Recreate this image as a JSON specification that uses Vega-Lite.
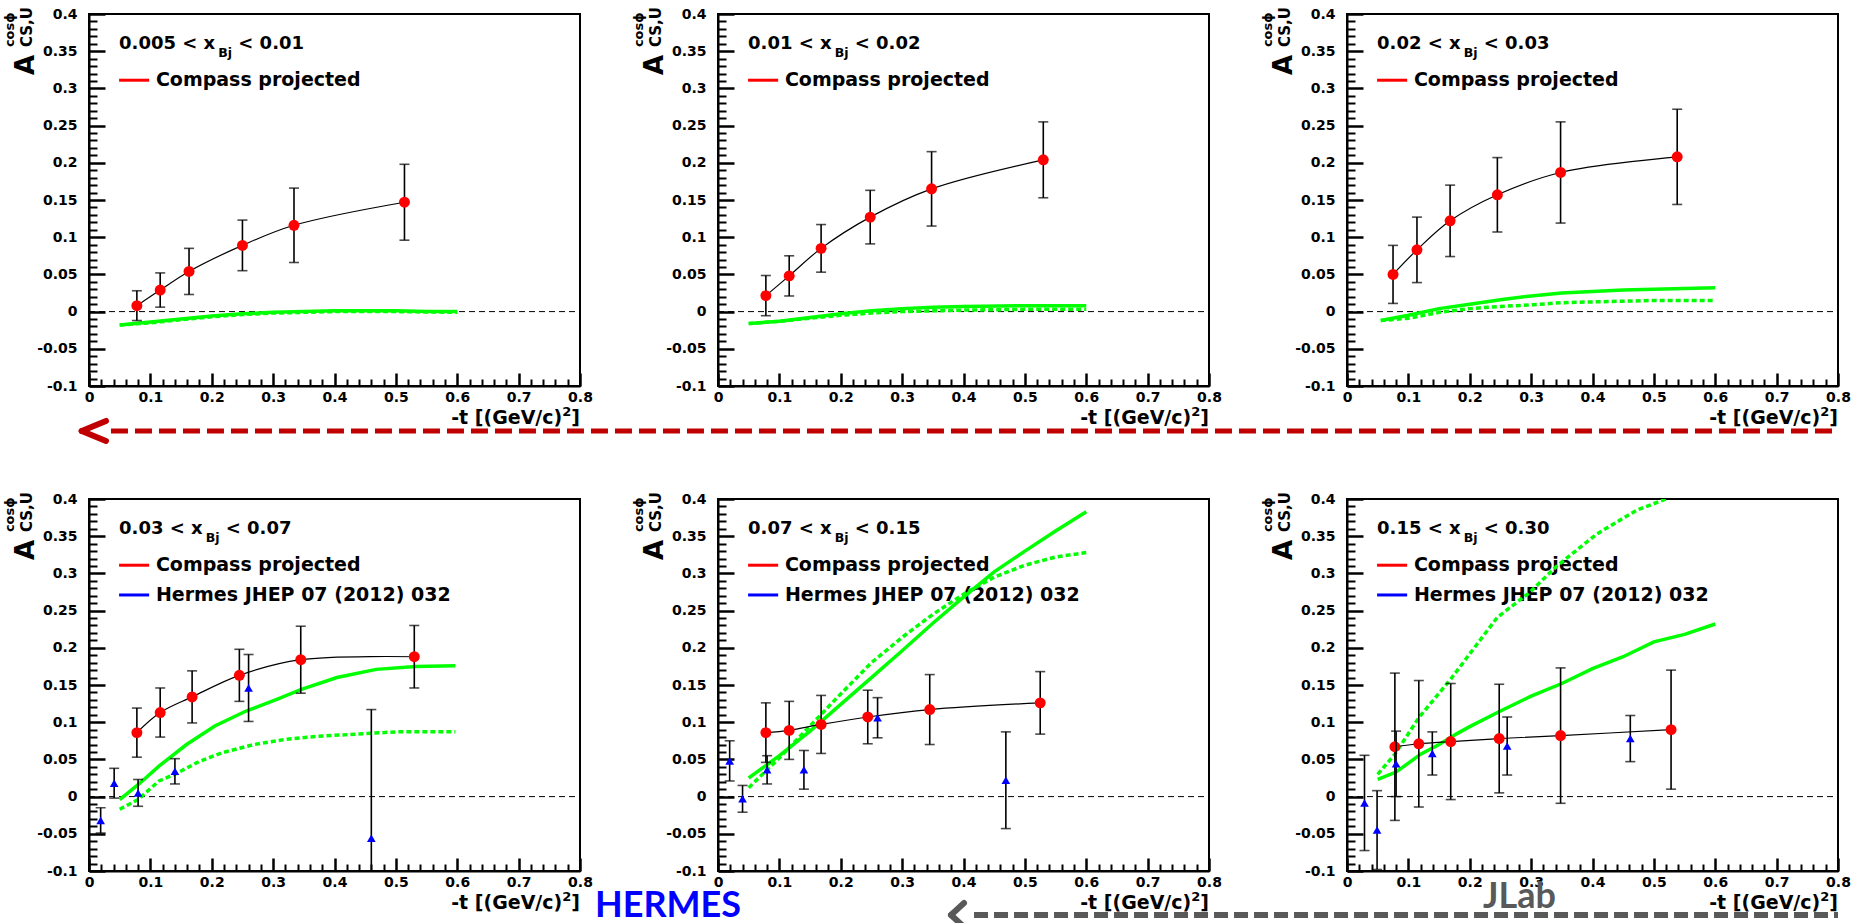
{
  "$schema": "https://vega.github.io/schema/vega-lite/v6.json",
  "background": "white",
  "autosize": {"type": "pad"},
  "padding": {"left": 3, "top": 6, "right": 5, "bottom": 0},
  "bounds": "flush",
  "columns": 3,
  "spacing": {"row": 113, "column": 138},
  "config": {
    "view": {"stroke": "black", "strokeWidth": 2},
    "axis": {
      "labelFont": "DejaVu Sans", "labelFontWeight": "bold", "labelFontSize": 14, "labelColor": "black",
      "domainColor": "black", "domainWidth": 2,
      "labelFlush": false, "labelOverlap": false, "labelBound": false, "grid": false, "title": null,
      "labelExpr": "replace(datum.label, '\u2212', '-')"
    }
  },
  "datasets": {
    "compass": [
      {"bin": "0.005-0.01", "t": 0.078, "A": 0.008, "err": 0.020},
      {"bin": "0.005-0.01", "t": 0.116, "A": 0.029, "err": 0.023},
      {"bin": "0.005-0.01", "t": 0.163, "A": 0.054, "err": 0.031},
      {"bin": "0.005-0.01", "t": 0.250, "A": 0.089, "err": 0.034},
      {"bin": "0.005-0.01", "t": 0.334, "A": 0.116, "err": 0.050},
      {"bin": "0.005-0.01", "t": 0.514, "A": 0.147, "err": 0.051},
      {"bin": "0.01-0.02", "t": 0.078, "A": 0.0215, "err": 0.027},
      {"bin": "0.01-0.02", "t": 0.116, "A": 0.048, "err": 0.027},
      {"bin": "0.01-0.02", "t": 0.168, "A": 0.085, "err": 0.032},
      {"bin": "0.01-0.02", "t": 0.248, "A": 0.127, "err": 0.036},
      {"bin": "0.01-0.02", "t": 0.348, "A": 0.165, "err": 0.050},
      {"bin": "0.01-0.02", "t": 0.530, "A": 0.204, "err": 0.051},
      {"bin": "0.02-0.03", "t": 0.075, "A": 0.050, "err": 0.039},
      {"bin": "0.02-0.03", "t": 0.114, "A": 0.083, "err": 0.044},
      {"bin": "0.02-0.03", "t": 0.168, "A": 0.122, "err": 0.048},
      {"bin": "0.02-0.03", "t": 0.245, "A": 0.157, "err": 0.050},
      {"bin": "0.02-0.03", "t": 0.348, "A": 0.187, "err": 0.068},
      {"bin": "0.02-0.03", "t": 0.538, "A": 0.208, "err": 0.064},
      {"bin": "0.03-0.07", "t": 0.078, "A": 0.086, "err": 0.033},
      {"bin": "0.03-0.07", "t": 0.116, "A": 0.113, "err": 0.033},
      {"bin": "0.03-0.07", "t": 0.168, "A": 0.134, "err": 0.035},
      {"bin": "0.03-0.07", "t": 0.245, "A": 0.163, "err": 0.035},
      {"bin": "0.03-0.07", "t": 0.345, "A": 0.184, "err": 0.045},
      {"bin": "0.03-0.07", "t": 0.530, "A": 0.188, "err": 0.042},
      {"bin": "0.07-0.15", "t": 0.078, "A": 0.086, "err": 0.040},
      {"bin": "0.07-0.15", "t": 0.116, "A": 0.089, "err": 0.039},
      {"bin": "0.07-0.15", "t": 0.168, "A": 0.097, "err": 0.039},
      {"bin": "0.07-0.15", "t": 0.244, "A": 0.107, "err": 0.036},
      {"bin": "0.07-0.15", "t": 0.345, "A": 0.117, "err": 0.047},
      {"bin": "0.07-0.15", "t": 0.525, "A": 0.126, "err": 0.042},
      {"bin": "0.15-0.30", "t": 0.078, "A": 0.067, "err": 0.099},
      {"bin": "0.15-0.30", "t": 0.117, "A": 0.071, "err": 0.085},
      {"bin": "0.15-0.30", "t": 0.169, "A": 0.074, "err": 0.078},
      {"bin": "0.15-0.30", "t": 0.248, "A": 0.078, "err": 0.073},
      {"bin": "0.15-0.30", "t": 0.348, "A": 0.082, "err": 0.091},
      {"bin": "0.15-0.30", "t": 0.528, "A": 0.090, "err": 0.080}
    ],
    "hermes": [
      {"bin": "0.03-0.07", "t": 0.019, "A": -0.032, "err": 0.017},
      {"bin": "0.03-0.07", "t": 0.041, "A": 0.018, "err": 0.020},
      {"bin": "0.03-0.07", "t": 0.080, "A": 0.005, "err": 0.018},
      {"bin": "0.03-0.07", "t": 0.140, "A": 0.034, "err": 0.017},
      {"bin": "0.03-0.07", "t": 0.260, "A": 0.146, "err": 0.045},
      {"bin": "0.03-0.07", "t": 0.460, "A": -0.056, "err": 0.173},
      {"bin": "0.07-0.15", "t": 0.019, "A": 0.048, "err": 0.027},
      {"bin": "0.07-0.15", "t": 0.040, "A": -0.003, "err": 0.018},
      {"bin": "0.07-0.15", "t": 0.080, "A": 0.036, "err": 0.019},
      {"bin": "0.07-0.15", "t": 0.140, "A": 0.036, "err": 0.026},
      {"bin": "0.07-0.15", "t": 0.260, "A": 0.106, "err": 0.027},
      {"bin": "0.07-0.15", "t": 0.469, "A": 0.022, "err": 0.065},
      {"bin": "0.15-0.30", "t": 0.0285, "A": -0.0085, "err": 0.064},
      {"bin": "0.15-0.30", "t": 0.049, "A": -0.045, "err": 0.053},
      {"bin": "0.15-0.30", "t": 0.080, "A": 0.044, "err": 0.044},
      {"bin": "0.15-0.30", "t": 0.139, "A": 0.058, "err": 0.029},
      {"bin": "0.15-0.30", "t": 0.261, "A": 0.068, "err": 0.039},
      {"bin": "0.15-0.30", "t": 0.4616, "A": 0.078, "err": 0.031}
    ],
    "model": [
      {"bin": "0.005-0.01", "curve": "solid", "t": 0.05, "A": -0.018},
      {"bin": "0.005-0.01", "curve": "solid", "t": 0.1, "A": -0.014},
      {"bin": "0.005-0.01", "curve": "solid", "t": 0.15, "A": -0.010},
      {"bin": "0.005-0.01", "curve": "solid", "t": 0.2, "A": -0.006},
      {"bin": "0.005-0.01", "curve": "solid", "t": 0.25, "A": -0.003},
      {"bin": "0.005-0.01", "curve": "solid", "t": 0.3, "A": -0.001},
      {"bin": "0.005-0.01", "curve": "solid", "t": 0.35, "A": 0.0},
      {"bin": "0.005-0.01", "curve": "solid", "t": 0.4, "A": 0.001},
      {"bin": "0.005-0.01", "curve": "solid", "t": 0.45, "A": 0.001},
      {"bin": "0.005-0.01", "curve": "solid", "t": 0.5, "A": 0.001},
      {"bin": "0.005-0.01", "curve": "solid", "t": 0.55, "A": 0.0},
      {"bin": "0.005-0.01", "curve": "solid", "t": 0.6, "A": 0.0},
      {"bin": "0.005-0.01", "curve": "dotted", "t": 0.05, "A": -0.018},
      {"bin": "0.005-0.01", "curve": "dotted", "t": 0.1, "A": -0.015},
      {"bin": "0.005-0.01", "curve": "dotted", "t": 0.15, "A": -0.011},
      {"bin": "0.005-0.01", "curve": "dotted", "t": 0.2, "A": -0.007},
      {"bin": "0.005-0.01", "curve": "dotted", "t": 0.25, "A": -0.004},
      {"bin": "0.005-0.01", "curve": "dotted", "t": 0.3, "A": -0.002},
      {"bin": "0.005-0.01", "curve": "dotted", "t": 0.35, "A": -0.001},
      {"bin": "0.005-0.01", "curve": "dotted", "t": 0.4, "A": 0.0},
      {"bin": "0.005-0.01", "curve": "dotted", "t": 0.5, "A": 0.0},
      {"bin": "0.005-0.01", "curve": "dotted", "t": 0.6, "A": -0.001},
      {"bin": "0.01-0.02", "curve": "solid", "t": 0.05, "A": -0.016},
      {"bin": "0.01-0.02", "curve": "solid", "t": 0.1, "A": -0.013},
      {"bin": "0.01-0.02", "curve": "solid", "t": 0.15, "A": -0.008},
      {"bin": "0.01-0.02", "curve": "solid", "t": 0.2, "A": -0.003},
      {"bin": "0.01-0.02", "curve": "solid", "t": 0.25, "A": 0.001},
      {"bin": "0.01-0.02", "curve": "solid", "t": 0.3, "A": 0.004},
      {"bin": "0.01-0.02", "curve": "solid", "t": 0.35, "A": 0.006},
      {"bin": "0.01-0.02", "curve": "solid", "t": 0.4, "A": 0.007},
      {"bin": "0.01-0.02", "curve": "solid", "t": 0.5, "A": 0.008},
      {"bin": "0.01-0.02", "curve": "solid", "t": 0.6, "A": 0.008},
      {"bin": "0.01-0.02", "curve": "dotted", "t": 0.05, "A": -0.016},
      {"bin": "0.01-0.02", "curve": "dotted", "t": 0.1, "A": -0.013},
      {"bin": "0.01-0.02", "curve": "dotted", "t": 0.15, "A": -0.009},
      {"bin": "0.01-0.02", "curve": "dotted", "t": 0.2, "A": -0.005},
      {"bin": "0.01-0.02", "curve": "dotted", "t": 0.25, "A": -0.002},
      {"bin": "0.01-0.02", "curve": "dotted", "t": 0.3, "A": 0.0},
      {"bin": "0.01-0.02", "curve": "dotted", "t": 0.35, "A": 0.001},
      {"bin": "0.01-0.02", "curve": "dotted", "t": 0.4, "A": 0.002},
      {"bin": "0.01-0.02", "curve": "dotted", "t": 0.5, "A": 0.003},
      {"bin": "0.01-0.02", "curve": "dotted", "t": 0.6, "A": 0.003},
      {"bin": "0.02-0.03", "curve": "solid", "t": 0.055, "A": -0.012},
      {"bin": "0.02-0.03", "curve": "solid", "t": 0.1, "A": -0.005},
      {"bin": "0.02-0.03", "curve": "solid", "t": 0.15, "A": 0.004},
      {"bin": "0.02-0.03", "curve": "solid", "t": 0.2, "A": 0.010},
      {"bin": "0.02-0.03", "curve": "solid", "t": 0.25, "A": 0.016},
      {"bin": "0.02-0.03", "curve": "solid", "t": 0.3, "A": 0.021},
      {"bin": "0.02-0.03", "curve": "solid", "t": 0.35, "A": 0.025},
      {"bin": "0.02-0.03", "curve": "solid", "t": 0.4, "A": 0.027},
      {"bin": "0.02-0.03", "curve": "solid", "t": 0.45, "A": 0.029},
      {"bin": "0.02-0.03", "curve": "solid", "t": 0.5, "A": 0.030},
      {"bin": "0.02-0.03", "curve": "solid", "t": 0.55, "A": 0.031},
      {"bin": "0.02-0.03", "curve": "solid", "t": 0.6, "A": 0.032},
      {"bin": "0.02-0.03", "curve": "dotted", "t": 0.055, "A": -0.012},
      {"bin": "0.02-0.03", "curve": "dotted", "t": 0.1, "A": -0.009},
      {"bin": "0.02-0.03", "curve": "dotted", "t": 0.15, "A": -0.001},
      {"bin": "0.02-0.03", "curve": "dotted", "t": 0.2, "A": 0.004},
      {"bin": "0.02-0.03", "curve": "dotted", "t": 0.25, "A": 0.007},
      {"bin": "0.02-0.03", "curve": "dotted", "t": 0.3, "A": 0.009},
      {"bin": "0.02-0.03", "curve": "dotted", "t": 0.35, "A": 0.012},
      {"bin": "0.02-0.03", "curve": "dotted", "t": 0.4, "A": 0.013},
      {"bin": "0.02-0.03", "curve": "dotted", "t": 0.5, "A": 0.015},
      {"bin": "0.02-0.03", "curve": "dotted", "t": 0.6, "A": 0.015},
      {"bin": "0.03-0.07", "curve": "solid", "t": 0.05, "A": -0.004},
      {"bin": "0.03-0.07", "curve": "solid", "t": 0.08, "A": 0.016},
      {"bin": "0.03-0.07", "curve": "solid", "t": 0.114, "A": 0.041},
      {"bin": "0.03-0.07", "curve": "solid", "t": 0.159, "A": 0.070},
      {"bin": "0.03-0.07", "curve": "solid", "t": 0.205, "A": 0.095},
      {"bin": "0.03-0.07", "curve": "solid", "t": 0.256, "A": 0.115},
      {"bin": "0.03-0.07", "curve": "solid", "t": 0.307, "A": 0.131},
      {"bin": "0.03-0.07", "curve": "solid", "t": 0.346, "A": 0.144},
      {"bin": "0.03-0.07", "curve": "solid", "t": 0.404, "A": 0.160},
      {"bin": "0.03-0.07", "curve": "solid", "t": 0.468, "A": 0.171},
      {"bin": "0.03-0.07", "curve": "solid", "t": 0.532, "A": 0.175},
      {"bin": "0.03-0.07", "curve": "solid", "t": 0.597, "A": 0.176},
      {"bin": "0.03-0.07", "curve": "dotted", "t": 0.05, "A": -0.017},
      {"bin": "0.03-0.07", "curve": "dotted", "t": 0.08, "A": -0.004},
      {"bin": "0.03-0.07", "curve": "dotted", "t": 0.114, "A": 0.021},
      {"bin": "0.03-0.07", "curve": "dotted", "t": 0.14, "A": 0.030},
      {"bin": "0.03-0.07", "curve": "dotted", "t": 0.179, "A": 0.047},
      {"bin": "0.03-0.07", "curve": "dotted", "t": 0.217, "A": 0.059},
      {"bin": "0.03-0.07", "curve": "dotted", "t": 0.269, "A": 0.070},
      {"bin": "0.03-0.07", "curve": "dotted", "t": 0.32, "A": 0.077},
      {"bin": "0.03-0.07", "curve": "dotted", "t": 0.372, "A": 0.081},
      {"bin": "0.03-0.07", "curve": "dotted", "t": 0.436, "A": 0.084},
      {"bin": "0.03-0.07", "curve": "dotted", "t": 0.5, "A": 0.087},
      {"bin": "0.03-0.07", "curve": "dotted", "t": 0.597, "A": 0.087},
      {"bin": "0.07-0.15", "curve": "solid", "t": 0.05, "A": 0.025},
      {"bin": "0.07-0.15", "curve": "solid", "t": 0.1, "A": 0.055},
      {"bin": "0.07-0.15", "curve": "solid", "t": 0.15, "A": 0.088},
      {"bin": "0.07-0.15", "curve": "solid", "t": 0.2, "A": 0.124},
      {"bin": "0.07-0.15", "curve": "solid", "t": 0.25, "A": 0.160},
      {"bin": "0.07-0.15", "curve": "solid", "t": 0.3, "A": 0.196},
      {"bin": "0.07-0.15", "curve": "solid", "t": 0.35, "A": 0.233},
      {"bin": "0.07-0.15", "curve": "solid", "t": 0.4, "A": 0.268},
      {"bin": "0.07-0.15", "curve": "solid", "t": 0.45, "A": 0.302},
      {"bin": "0.07-0.15", "curve": "solid", "t": 0.5, "A": 0.330},
      {"bin": "0.07-0.15", "curve": "solid", "t": 0.55, "A": 0.357},
      {"bin": "0.07-0.15", "curve": "solid", "t": 0.6, "A": 0.383},
      {"bin": "0.07-0.15", "curve": "dotted", "t": 0.05, "A": 0.012},
      {"bin": "0.07-0.15", "curve": "dotted", "t": 0.1, "A": 0.052},
      {"bin": "0.07-0.15", "curve": "dotted", "t": 0.15, "A": 0.095},
      {"bin": "0.07-0.15", "curve": "dotted", "t": 0.2, "A": 0.138},
      {"bin": "0.07-0.15", "curve": "dotted", "t": 0.25, "A": 0.180},
      {"bin": "0.07-0.15", "curve": "dotted", "t": 0.3, "A": 0.214},
      {"bin": "0.07-0.15", "curve": "dotted", "t": 0.35, "A": 0.245},
      {"bin": "0.07-0.15", "curve": "dotted", "t": 0.4, "A": 0.272},
      {"bin": "0.07-0.15", "curve": "dotted", "t": 0.45, "A": 0.295},
      {"bin": "0.07-0.15", "curve": "dotted", "t": 0.5, "A": 0.311},
      {"bin": "0.07-0.15", "curve": "dotted", "t": 0.55, "A": 0.322},
      {"bin": "0.07-0.15", "curve": "dotted", "t": 0.6, "A": 0.328},
      {"bin": "0.15-0.30", "curve": "solid", "t": 0.05, "A": 0.023},
      {"bin": "0.15-0.30", "curve": "solid", "t": 0.08, "A": 0.033},
      {"bin": "0.15-0.30", "curve": "solid", "t": 0.1, "A": 0.045},
      {"bin": "0.15-0.30", "curve": "solid", "t": 0.12, "A": 0.057},
      {"bin": "0.15-0.30", "curve": "solid", "t": 0.15, "A": 0.070},
      {"bin": "0.15-0.30", "curve": "solid", "t": 0.18, "A": 0.085},
      {"bin": "0.15-0.30", "curve": "solid", "t": 0.2, "A": 0.094},
      {"bin": "0.15-0.30", "curve": "solid", "t": 0.25, "A": 0.115},
      {"bin": "0.15-0.30", "curve": "solid", "t": 0.3, "A": 0.135},
      {"bin": "0.15-0.30", "curve": "solid", "t": 0.35, "A": 0.152},
      {"bin": "0.15-0.30", "curve": "solid", "t": 0.4, "A": 0.172},
      {"bin": "0.15-0.30", "curve": "solid", "t": 0.45, "A": 0.188},
      {"bin": "0.15-0.30", "curve": "solid", "t": 0.5, "A": 0.208},
      {"bin": "0.15-0.30", "curve": "solid", "t": 0.55, "A": 0.218},
      {"bin": "0.15-0.30", "curve": "solid", "t": 0.6, "A": 0.232},
      {"bin": "0.15-0.30", "curve": "dotted", "t": 0.05, "A": 0.030},
      {"bin": "0.15-0.30", "curve": "dotted", "t": 0.078, "A": 0.057},
      {"bin": "0.15-0.30", "curve": "dotted", "t": 0.117, "A": 0.106},
      {"bin": "0.15-0.30", "curve": "dotted", "t": 0.169, "A": 0.158},
      {"bin": "0.15-0.30", "curve": "dotted", "t": 0.245, "A": 0.241},
      {"bin": "0.15-0.30", "curve": "dotted", "t": 0.297, "A": 0.274},
      {"bin": "0.15-0.30", "curve": "dotted", "t": 0.342, "A": 0.310},
      {"bin": "0.15-0.30", "curve": "dotted", "t": 0.407, "A": 0.353},
      {"bin": "0.15-0.30", "curve": "dotted", "t": 0.472, "A": 0.385},
      {"bin": "0.15-0.30", "curve": "dotted", "t": 0.52, "A": 0.400}
    ]
  },
  "concat": [
    {
      "width": 491, "height": 372,
      "data": {"values": [{}]},
      "resolve": {"axis": {"x": "independent", "y": "independent"}},
      "layer": [
        {"mark": {"type": "rule", "color": "black", "strokeWidth": 1, "strokeDash": [6, 4]},
         "encoding": {
           "x": {"datum": 0, "type": "quantitative", "scale": {"domain": [0, 0.8], "nice": false, "zero": false},
                 "axis": {"orient": "bottom", "values": [0, 0.1, 0.2, 0.3, 0.4, 0.5, 0.6, 0.7, 0.8], "format": ".1~f", "tickSize": -13, "tickColor": "black", "tickWidth": 2.5, "labelPadding": 17}},
           "x2": {"datum": 0.8},
           "y": {"datum": 0, "type": "quantitative", "scale": {"domain": [-0.1, 0.4], "nice": false, "zero": false},
                 "axis": {"orient": "left", "values": [-0.1, -0.05, 0, 0.05, 0.1, 0.15, 0.2, 0.25, 0.3, 0.35, 0.4], "format": ".2~f", "tickSize": -16, "tickColor": "black", "tickWidth": 2.5, "labelPadding": 28}}}},
        {"mark": {"type": "rule", "color": "#ff0000", "strokeWidth": 3},
         "encoding": {
           "x": {"datum": 0.049, "type": "quantitative", "axis": {"orient": "top", "offset": -372, "values": [0.02, 0.04, 0.06, 0.08, 0.12, 0.14, 0.16, 0.18, 0.22, 0.24, 0.26, 0.28, 0.32, 0.34, 0.36, 0.38, 0.42, 0.44, 0.46, 0.48, 0.52, 0.54, 0.56, 0.58, 0.62, 0.64, 0.66, 0.68, 0.72, 0.74, 0.76, 0.78], "tickSize": 7, "tickColor": "black", "tickWidth": 2, "labels": false, "domain": false}},
           "x2": {"datum": 0.098},
           "y": {"datum": 0.311, "type": "quantitative", "axis": {"orient": "right", "offset": -491, "values": [-0.09, -0.08, -0.07, -0.06, -0.04, -0.03, -0.02, -0.01, 0.01, 0.02, 0.03, 0.04, 0.06, 0.07, 0.08, 0.09, 0.11, 0.12, 0.13, 0.14, 0.16, 0.17, 0.18, 0.19, 0.21, 0.22, 0.23, 0.24, 0.26, 0.27, 0.28, 0.29, 0.31, 0.32, 0.33, 0.34, 0.36, 0.37, 0.38, 0.39], "tickSize": 8, "tickColor": "black", "tickWidth": 2, "labels": false, "domain": false}}}},
        {"mark": {"type": "text", "text": "Compass projected", "align": "left", "baseline": "middle", "font": "DejaVu Sans", "fontWeight": "bold", "fontSize": 19},
         "encoding": {"x": {"datum": 0.109, "type": "quantitative", "axis": null}, "y": {"datum": 0.311, "type": "quantitative", "axis": null}}},
        {"mark": {"type": "text", "text": "0.005 < x", "align": "left", "baseline": "alphabetic", "font": "DejaVu Sans", "fontWeight": "bold", "fontSize": 18},
         "encoding": {"x": {"datum": 0.049, "type": "quantitative", "axis": null}, "y": {"datum": 0.3525, "type": "quantitative", "axis": null}}},
        {"mark": {"type": "text", "text": "Bj", "align": "left", "baseline": "alphabetic", "font": "DejaVu Sans", "fontWeight": "bold", "fontSize": 12.5},
         "encoding": {"x": {"datum": 0.2105, "type": "quantitative", "axis": null}, "y": {"datum": 0.3417, "type": "quantitative", "axis": null}}},
        {"mark": {"type": "text", "text": "< 0.01", "align": "left", "baseline": "alphabetic", "font": "DejaVu Sans", "fontWeight": "bold", "fontSize": 18},
         "encoding": {"x": {"datum": 0.2432, "type": "quantitative", "axis": null}, "y": {"datum": 0.3525, "type": "quantitative", "axis": null}}},
        {"mark": {"type": "text", "text": "A", "angle": 270, "align": "center", "baseline": "alphabetic", "font": "DejaVu Sans", "fontWeight": "bold", "fontSize": 26},
         "encoding": {"x": {"datum": -0.0895, "type": "quantitative", "axis": null}, "y": {"datum": 0.3315, "type": "quantitative", "axis": null}}},
        {"mark": {"type": "text", "text": "CS,U", "angle": 270, "align": "left", "baseline": "alphabetic", "font": "DejaVu Sans", "fontWeight": "bold", "fontSize": 15},
         "encoding": {"x": {"datum": -0.093, "type": "quantitative", "axis": null}, "y": {"datum": 0.3555, "type": "quantitative", "axis": null}}},
        {"mark": {"type": "text", "text": "cos\u03d5", "angle": 270, "align": "left", "baseline": "alphabetic", "font": "DejaVu Sans", "fontWeight": "bold", "fontSize": 13},
         "encoding": {"x": {"datum": -0.1215, "type": "quantitative", "axis": null}, "y": {"datum": 0.3555, "type": "quantitative", "axis": null}}},
        {"mark": {"type": "text", "text": "-t [(GeV/c)", "align": "right", "baseline": "alphabetic", "font": "DejaVu Sans", "fontWeight": "bold", "fontSize": 19},
         "encoding": {"x": {"datum": 0.7711, "type": "quantitative", "axis": null}, "y": {"datum": -0.1511, "type": "quantitative", "axis": null}}},
        {"mark": {"type": "text", "text": "2", "align": "right", "baseline": "alphabetic", "font": "DejaVu Sans", "fontWeight": "bold", "fontSize": 13},
         "encoding": {"x": {"datum": 0.7858, "type": "quantitative", "axis": null}, "y": {"datum": -0.1403, "type": "quantitative", "axis": null}}},
        {"mark": {"type": "text", "text": "]", "align": "right", "baseline": "alphabetic", "font": "DejaVu Sans", "fontWeight": "bold", "fontSize": 19},
         "encoding": {"x": {"datum": 0.8, "type": "quantitative", "axis": null}, "y": {"datum": -0.1511, "type": "quantitative", "axis": null}}},
        {"data": {"name": "model"}, "transform": [{"filter": "datum.bin === '0.005-0.01' && datum.curve === 'solid'"}],
         "mark": {"type": "line", "color": "#00ff00", "strokeWidth": 3.5, "clip": true},
         "encoding": {"x": {"field": "t", "type": "quantitative", "axis": null}, "y": {"field": "A", "type": "quantitative", "axis": null}}},
        {"data": {"name": "model"}, "transform": [{"filter": "datum.bin === '0.005-0.01' && datum.curve === 'dotted'"}],
         "mark": {"type": "line", "color": "#00ff00", "strokeWidth": 3.5, "strokeDash": [5, 3], "clip": true},
         "encoding": {"x": {"field": "t", "type": "quantitative", "axis": null}, "y": {"field": "A", "type": "quantitative", "axis": null}}},
        {"data": {"name": "compass"}, "transform": [{"filter": "datum.bin === '0.005-0.01'"}],
         "mark": {"type": "line", "color": "black", "strokeWidth": 1.2, "interpolate": "catmull-rom"},
         "encoding": {"x": {"field": "t", "type": "quantitative", "axis": null}, "y": {"field": "A", "type": "quantitative", "axis": null}}},
        {"data": {"name": "compass"}, "transform": [{"filter": "datum.bin === '0.005-0.01'"}],
         "mark": {"type": "errorbar", "clip": true, "ticks": {"size": 10, "color": "black", "thickness": 1.6}, "rule": {"color": "black", "strokeWidth": 1.6}},
         "encoding": {"x": {"field": "t", "type": "quantitative", "axis": null}, "y": {"field": "A", "type": "quantitative", "axis": null}, "yError": {"field": "err"}}},
        {"data": {"name": "compass"}, "transform": [{"filter": "datum.bin === '0.005-0.01'"}],
         "mark": {"type": "point", "filled": true, "shape": "circle", "size": 120, "color": "#ff0000", "opacity": 1},
         "encoding": {"x": {"field": "t", "type": "quantitative", "axis": null}, "y": {"field": "A", "type": "quantitative", "axis": null}}},
        {"mark": {"type": "rule", "color": "#c00000", "strokeWidth": 5, "strokeDash": [17, 7]},
         "encoding": {"x": {"datum": 0.0358, "type": "quantitative", "axis": null}, "x2": {"datum": 2.8416}, "y": {"datum": -0.1605, "type": "quantitative", "axis": null}}},
        {"mark": {"type": "rule", "color": "#c00000", "strokeWidth": 6, "strokeCap": "round"},
         "encoding": {"x": {"datum": -0.0119, "type": "quantitative", "axis": null}, "x2": {"datum": 0.0277}, "y": {"datum": -0.1605, "type": "quantitative", "axis": null}, "y2": {"datum": -0.1470}}},
        {"mark": {"type": "rule", "color": "#c00000", "strokeWidth": 6, "strokeCap": "round"},
         "encoding": {"x": {"datum": -0.0119, "type": "quantitative", "axis": null}, "x2": {"datum": 0.0277}, "y": {"datum": -0.1605, "type": "quantitative", "axis": null}, "y2": {"datum": -0.1739}}}
      ]
    },
    {
      "width": 491, "height": 372,
      "data": {"values": [{}]},
      "resolve": {"axis": {"x": "independent", "y": "independent"}},
      "layer": [
        {"mark": {"type": "rule", "color": "black", "strokeWidth": 1, "strokeDash": [6, 4]},
         "encoding": {
           "x": {"datum": 0, "type": "quantitative", "scale": {"domain": [0, 0.8], "nice": false, "zero": false},
                 "axis": {"orient": "bottom", "values": [0, 0.1, 0.2, 0.3, 0.4, 0.5, 0.6, 0.7, 0.8], "format": ".1~f", "tickSize": -13, "tickColor": "black", "tickWidth": 2.5, "labelPadding": 17}},
           "x2": {"datum": 0.8},
           "y": {"datum": 0, "type": "quantitative", "scale": {"domain": [-0.1, 0.4], "nice": false, "zero": false},
                 "axis": {"orient": "left", "values": [-0.1, -0.05, 0, 0.05, 0.1, 0.15, 0.2, 0.25, 0.3, 0.35, 0.4], "format": ".2~f", "tickSize": -16, "tickColor": "black", "tickWidth": 2.5, "labelPadding": 28}}}},
        {"mark": {"type": "rule", "color": "#ff0000", "strokeWidth": 3},
         "encoding": {
           "x": {"datum": 0.049, "type": "quantitative", "axis": {"orient": "top", "offset": -372, "values": [0.02, 0.04, 0.06, 0.08, 0.12, 0.14, 0.16, 0.18, 0.22, 0.24, 0.26, 0.28, 0.32, 0.34, 0.36, 0.38, 0.42, 0.44, 0.46, 0.48, 0.52, 0.54, 0.56, 0.58, 0.62, 0.64, 0.66, 0.68, 0.72, 0.74, 0.76, 0.78], "tickSize": 7, "tickColor": "black", "tickWidth": 2, "labels": false, "domain": false}},
           "x2": {"datum": 0.098},
           "y": {"datum": 0.311, "type": "quantitative", "axis": {"orient": "right", "offset": -491, "values": [-0.09, -0.08, -0.07, -0.06, -0.04, -0.03, -0.02, -0.01, 0.01, 0.02, 0.03, 0.04, 0.06, 0.07, 0.08, 0.09, 0.11, 0.12, 0.13, 0.14, 0.16, 0.17, 0.18, 0.19, 0.21, 0.22, 0.23, 0.24, 0.26, 0.27, 0.28, 0.29, 0.31, 0.32, 0.33, 0.34, 0.36, 0.37, 0.38, 0.39], "tickSize": 8, "tickColor": "black", "tickWidth": 2, "labels": false, "domain": false}}}},
        {"mark": {"type": "text", "text": "Compass projected", "align": "left", "baseline": "middle", "font": "DejaVu Sans", "fontWeight": "bold", "fontSize": 19},
         "encoding": {"x": {"datum": 0.109, "type": "quantitative", "axis": null}, "y": {"datum": 0.311, "type": "quantitative", "axis": null}}},
        {"mark": {"type": "text", "text": "0.01 < x", "align": "left", "baseline": "alphabetic", "font": "DejaVu Sans", "fontWeight": "bold", "fontSize": 18},
         "encoding": {"x": {"datum": 0.049, "type": "quantitative", "axis": null}, "y": {"datum": 0.3525, "type": "quantitative", "axis": null}}},
        {"mark": {"type": "text", "text": "Bj", "align": "left", "baseline": "alphabetic", "font": "DejaVu Sans", "fontWeight": "bold", "fontSize": 12.5},
         "encoding": {"x": {"datum": 0.1901, "type": "quantitative", "axis": null}, "y": {"datum": 0.3417, "type": "quantitative", "axis": null}}},
        {"mark": {"type": "text", "text": "< 0.02", "align": "left", "baseline": "alphabetic", "font": "DejaVu Sans", "fontWeight": "bold", "fontSize": 18},
         "encoding": {"x": {"datum": 0.2228, "type": "quantitative", "axis": null}, "y": {"datum": 0.3525, "type": "quantitative", "axis": null}}},
        {"mark": {"type": "text", "text": "A", "angle": 270, "align": "center", "baseline": "alphabetic", "font": "DejaVu Sans", "fontWeight": "bold", "fontSize": 26},
         "encoding": {"x": {"datum": -0.0895, "type": "quantitative", "axis": null}, "y": {"datum": 0.3315, "type": "quantitative", "axis": null}}},
        {"mark": {"type": "text", "text": "CS,U", "angle": 270, "align": "left", "baseline": "alphabetic", "font": "DejaVu Sans", "fontWeight": "bold", "fontSize": 15},
         "encoding": {"x": {"datum": -0.093, "type": "quantitative", "axis": null}, "y": {"datum": 0.3555, "type": "quantitative", "axis": null}}},
        {"mark": {"type": "text", "text": "cos\u03d5", "angle": 270, "align": "left", "baseline": "alphabetic", "font": "DejaVu Sans", "fontWeight": "bold", "fontSize": 13},
         "encoding": {"x": {"datum": -0.1215, "type": "quantitative", "axis": null}, "y": {"datum": 0.3555, "type": "quantitative", "axis": null}}},
        {"mark": {"type": "text", "text": "-t [(GeV/c)", "align": "right", "baseline": "alphabetic", "font": "DejaVu Sans", "fontWeight": "bold", "fontSize": 19},
         "encoding": {"x": {"datum": 0.7711, "type": "quantitative", "axis": null}, "y": {"datum": -0.1511, "type": "quantitative", "axis": null}}},
        {"mark": {"type": "text", "text": "2", "align": "right", "baseline": "alphabetic", "font": "DejaVu Sans", "fontWeight": "bold", "fontSize": 13},
         "encoding": {"x": {"datum": 0.7858, "type": "quantitative", "axis": null}, "y": {"datum": -0.1403, "type": "quantitative", "axis": null}}},
        {"mark": {"type": "text", "text": "]", "align": "right", "baseline": "alphabetic", "font": "DejaVu Sans", "fontWeight": "bold", "fontSize": 19},
         "encoding": {"x": {"datum": 0.8, "type": "quantitative", "axis": null}, "y": {"datum": -0.1511, "type": "quantitative", "axis": null}}},
        {"data": {"name": "model"}, "transform": [{"filter": "datum.bin === '0.01-0.02' && datum.curve === 'solid'"}],
         "mark": {"type": "line", "color": "#00ff00", "strokeWidth": 3.5, "clip": true},
         "encoding": {"x": {"field": "t", "type": "quantitative", "axis": null}, "y": {"field": "A", "type": "quantitative", "axis": null}}},
        {"data": {"name": "model"}, "transform": [{"filter": "datum.bin === '0.01-0.02' && datum.curve === 'dotted'"}],
         "mark": {"type": "line", "color": "#00ff00", "strokeWidth": 3.5, "strokeDash": [5, 3], "clip": true},
         "encoding": {"x": {"field": "t", "type": "quantitative", "axis": null}, "y": {"field": "A", "type": "quantitative", "axis": null}}},
        {"data": {"name": "compass"}, "transform": [{"filter": "datum.bin === '0.01-0.02'"}],
         "mark": {"type": "line", "color": "black", "strokeWidth": 1.2, "interpolate": "catmull-rom"},
         "encoding": {"x": {"field": "t", "type": "quantitative", "axis": null}, "y": {"field": "A", "type": "quantitative", "axis": null}}},
        {"data": {"name": "compass"}, "transform": [{"filter": "datum.bin === '0.01-0.02'"}],
         "mark": {"type": "errorbar", "clip": true, "ticks": {"size": 10, "color": "black", "thickness": 1.6}, "rule": {"color": "black", "strokeWidth": 1.6}},
         "encoding": {"x": {"field": "t", "type": "quantitative", "axis": null}, "y": {"field": "A", "type": "quantitative", "axis": null}, "yError": {"field": "err"}}},
        {"data": {"name": "compass"}, "transform": [{"filter": "datum.bin === '0.01-0.02'"}],
         "mark": {"type": "point", "filled": true, "shape": "circle", "size": 120, "color": "#ff0000", "opacity": 1},
         "encoding": {"x": {"field": "t", "type": "quantitative", "axis": null}, "y": {"field": "A", "type": "quantitative", "axis": null}}}
      ]
    },
    {
      "width": 491, "height": 372,
      "data": {"values": [{}]},
      "resolve": {"axis": {"x": "independent", "y": "independent"}},
      "layer": [
        {"mark": {"type": "rule", "color": "black", "strokeWidth": 1, "strokeDash": [6, 4]},
         "encoding": {
           "x": {"datum": 0, "type": "quantitative", "scale": {"domain": [0, 0.8], "nice": false, "zero": false},
                 "axis": {"orient": "bottom", "values": [0, 0.1, 0.2, 0.3, 0.4, 0.5, 0.6, 0.7, 0.8], "format": ".1~f", "tickSize": -13, "tickColor": "black", "tickWidth": 2.5, "labelPadding": 17}},
           "x2": {"datum": 0.8},
           "y": {"datum": 0, "type": "quantitative", "scale": {"domain": [-0.1, 0.4], "nice": false, "zero": false},
                 "axis": {"orient": "left", "values": [-0.1, -0.05, 0, 0.05, 0.1, 0.15, 0.2, 0.25, 0.3, 0.35, 0.4], "format": ".2~f", "tickSize": -16, "tickColor": "black", "tickWidth": 2.5, "labelPadding": 28}}}},
        {"mark": {"type": "rule", "color": "#ff0000", "strokeWidth": 3},
         "encoding": {
           "x": {"datum": 0.049, "type": "quantitative", "axis": {"orient": "top", "offset": -372, "values": [0.02, 0.04, 0.06, 0.08, 0.12, 0.14, 0.16, 0.18, 0.22, 0.24, 0.26, 0.28, 0.32, 0.34, 0.36, 0.38, 0.42, 0.44, 0.46, 0.48, 0.52, 0.54, 0.56, 0.58, 0.62, 0.64, 0.66, 0.68, 0.72, 0.74, 0.76, 0.78], "tickSize": 7, "tickColor": "black", "tickWidth": 2, "labels": false, "domain": false}},
           "x2": {"datum": 0.098},
           "y": {"datum": 0.311, "type": "quantitative", "axis": {"orient": "right", "offset": -491, "values": [-0.09, -0.08, -0.07, -0.06, -0.04, -0.03, -0.02, -0.01, 0.01, 0.02, 0.03, 0.04, 0.06, 0.07, 0.08, 0.09, 0.11, 0.12, 0.13, 0.14, 0.16, 0.17, 0.18, 0.19, 0.21, 0.22, 0.23, 0.24, 0.26, 0.27, 0.28, 0.29, 0.31, 0.32, 0.33, 0.34, 0.36, 0.37, 0.38, 0.39], "tickSize": 8, "tickColor": "black", "tickWidth": 2, "labels": false, "domain": false}}}},
        {"mark": {"type": "text", "text": "Compass projected", "align": "left", "baseline": "middle", "font": "DejaVu Sans", "fontWeight": "bold", "fontSize": 19},
         "encoding": {"x": {"datum": 0.109, "type": "quantitative", "axis": null}, "y": {"datum": 0.311, "type": "quantitative", "axis": null}}},
        {"mark": {"type": "text", "text": "0.02 < x", "align": "left", "baseline": "alphabetic", "font": "DejaVu Sans", "fontWeight": "bold", "fontSize": 18},
         "encoding": {"x": {"datum": 0.049, "type": "quantitative", "axis": null}, "y": {"datum": 0.3525, "type": "quantitative", "axis": null}}},
        {"mark": {"type": "text", "text": "Bj", "align": "left", "baseline": "alphabetic", "font": "DejaVu Sans", "fontWeight": "bold", "fontSize": 12.5},
         "encoding": {"x": {"datum": 0.1901, "type": "quantitative", "axis": null}, "y": {"datum": 0.3417, "type": "quantitative", "axis": null}}},
        {"mark": {"type": "text", "text": "< 0.03", "align": "left", "baseline": "alphabetic", "font": "DejaVu Sans", "fontWeight": "bold", "fontSize": 18},
         "encoding": {"x": {"datum": 0.2228, "type": "quantitative", "axis": null}, "y": {"datum": 0.3525, "type": "quantitative", "axis": null}}},
        {"mark": {"type": "text", "text": "A", "angle": 270, "align": "center", "baseline": "alphabetic", "font": "DejaVu Sans", "fontWeight": "bold", "fontSize": 26},
         "encoding": {"x": {"datum": -0.0895, "type": "quantitative", "axis": null}, "y": {"datum": 0.3315, "type": "quantitative", "axis": null}}},
        {"mark": {"type": "text", "text": "CS,U", "angle": 270, "align": "left", "baseline": "alphabetic", "font": "DejaVu Sans", "fontWeight": "bold", "fontSize": 15},
         "encoding": {"x": {"datum": -0.093, "type": "quantitative", "axis": null}, "y": {"datum": 0.3555, "type": "quantitative", "axis": null}}},
        {"mark": {"type": "text", "text": "cos\u03d5", "angle": 270, "align": "left", "baseline": "alphabetic", "font": "DejaVu Sans", "fontWeight": "bold", "fontSize": 13},
         "encoding": {"x": {"datum": -0.1215, "type": "quantitative", "axis": null}, "y": {"datum": 0.3555, "type": "quantitative", "axis": null}}},
        {"mark": {"type": "text", "text": "-t [(GeV/c)", "align": "right", "baseline": "alphabetic", "font": "DejaVu Sans", "fontWeight": "bold", "fontSize": 19},
         "encoding": {"x": {"datum": 0.7711, "type": "quantitative", "axis": null}, "y": {"datum": -0.1511, "type": "quantitative", "axis": null}}},
        {"mark": {"type": "text", "text": "2", "align": "right", "baseline": "alphabetic", "font": "DejaVu Sans", "fontWeight": "bold", "fontSize": 13},
         "encoding": {"x": {"datum": 0.7858, "type": "quantitative", "axis": null}, "y": {"datum": -0.1403, "type": "quantitative", "axis": null}}},
        {"mark": {"type": "text", "text": "]", "align": "right", "baseline": "alphabetic", "font": "DejaVu Sans", "fontWeight": "bold", "fontSize": 19},
         "encoding": {"x": {"datum": 0.8, "type": "quantitative", "axis": null}, "y": {"datum": -0.1511, "type": "quantitative", "axis": null}}},
        {"data": {"name": "model"}, "transform": [{"filter": "datum.bin === '0.02-0.03' && datum.curve === 'solid'"}],
         "mark": {"type": "line", "color": "#00ff00", "strokeWidth": 3.5, "clip": true},
         "encoding": {"x": {"field": "t", "type": "quantitative", "axis": null}, "y": {"field": "A", "type": "quantitative", "axis": null}}},
        {"data": {"name": "model"}, "transform": [{"filter": "datum.bin === '0.02-0.03' && datum.curve === 'dotted'"}],
         "mark": {"type": "line", "color": "#00ff00", "strokeWidth": 3.5, "strokeDash": [5, 3], "clip": true},
         "encoding": {"x": {"field": "t", "type": "quantitative", "axis": null}, "y": {"field": "A", "type": "quantitative", "axis": null}}},
        {"data": {"name": "compass"}, "transform": [{"filter": "datum.bin === '0.02-0.03'"}],
         "mark": {"type": "line", "color": "black", "strokeWidth": 1.2, "interpolate": "catmull-rom"},
         "encoding": {"x": {"field": "t", "type": "quantitative", "axis": null}, "y": {"field": "A", "type": "quantitative", "axis": null}}},
        {"data": {"name": "compass"}, "transform": [{"filter": "datum.bin === '0.02-0.03'"}],
         "mark": {"type": "errorbar", "clip": true, "ticks": {"size": 10, "color": "black", "thickness": 1.6}, "rule": {"color": "black", "strokeWidth": 1.6}},
         "encoding": {"x": {"field": "t", "type": "quantitative", "axis": null}, "y": {"field": "A", "type": "quantitative", "axis": null}, "yError": {"field": "err"}}},
        {"data": {"name": "compass"}, "transform": [{"filter": "datum.bin === '0.02-0.03'"}],
         "mark": {"type": "point", "filled": true, "shape": "circle", "size": 120, "color": "#ff0000", "opacity": 1},
         "encoding": {"x": {"field": "t", "type": "quantitative", "axis": null}, "y": {"field": "A", "type": "quantitative", "axis": null}}}
      ]
    },
    {
      "width": 491, "height": 372,
      "data": {"values": [{}]},
      "resolve": {"axis": {"x": "independent", "y": "independent"}},
      "layer": [
        {"mark": {"type": "rule", "color": "black", "strokeWidth": 1, "strokeDash": [6, 4]},
         "encoding": {
           "x": {"datum": 0, "type": "quantitative", "scale": {"domain": [0, 0.8], "nice": false, "zero": false},
                 "axis": {"orient": "bottom", "values": [0, 0.1, 0.2, 0.3, 0.4, 0.5, 0.6, 0.7, 0.8], "format": ".1~f", "tickSize": -13, "tickColor": "black", "tickWidth": 2.5, "labelPadding": 17}},
           "x2": {"datum": 0.8},
           "y": {"datum": 0, "type": "quantitative", "scale": {"domain": [-0.1, 0.4], "nice": false, "zero": false},
                 "axis": {"orient": "left", "values": [-0.1, -0.05, 0, 0.05, 0.1, 0.15, 0.2, 0.25, 0.3, 0.35, 0.4], "format": ".2~f", "tickSize": -16, "tickColor": "black", "tickWidth": 2.5, "labelPadding": 28}}}},
        {"mark": {"type": "rule", "color": "#ff0000", "strokeWidth": 3},
         "encoding": {
           "x": {"datum": 0.049, "type": "quantitative", "axis": {"orient": "top", "offset": -372, "values": [0.02, 0.04, 0.06, 0.08, 0.12, 0.14, 0.16, 0.18, 0.22, 0.24, 0.26, 0.28, 0.32, 0.34, 0.36, 0.38, 0.42, 0.44, 0.46, 0.48, 0.52, 0.54, 0.56, 0.58, 0.62, 0.64, 0.66, 0.68, 0.72, 0.74, 0.76, 0.78], "tickSize": 7, "tickColor": "black", "tickWidth": 2, "labels": false, "domain": false}},
           "x2": {"datum": 0.098},
           "y": {"datum": 0.311, "type": "quantitative", "axis": {"orient": "right", "offset": -491, "values": [-0.09, -0.08, -0.07, -0.06, -0.04, -0.03, -0.02, -0.01, 0.01, 0.02, 0.03, 0.04, 0.06, 0.07, 0.08, 0.09, 0.11, 0.12, 0.13, 0.14, 0.16, 0.17, 0.18, 0.19, 0.21, 0.22, 0.23, 0.24, 0.26, 0.27, 0.28, 0.29, 0.31, 0.32, 0.33, 0.34, 0.36, 0.37, 0.38, 0.39], "tickSize": 8, "tickColor": "black", "tickWidth": 2, "labels": false, "domain": false}}}},
        {"mark": {"type": "rule", "color": "#0000ff", "strokeWidth": 3},
         "encoding": {"x": {"datum": 0.049, "type": "quantitative", "axis": null}, "x2": {"datum": 0.098}, "y": {"datum": 0.271, "type": "quantitative", "axis": null}}},
        {"mark": {"type": "text", "text": "Compass projected", "align": "left", "baseline": "middle", "font": "DejaVu Sans", "fontWeight": "bold", "fontSize": 19},
         "encoding": {"x": {"datum": 0.109, "type": "quantitative", "axis": null}, "y": {"datum": 0.311, "type": "quantitative", "axis": null}}},
        {"mark": {"type": "text", "text": "Hermes JHEP 07 (2012) 032", "align": "left", "baseline": "middle", "font": "DejaVu Sans", "fontWeight": "bold", "fontSize": 19},
         "encoding": {"x": {"datum": 0.109, "type": "quantitative", "axis": null}, "y": {"datum": 0.271, "type": "quantitative", "axis": null}}},
        {"mark": {"type": "text", "text": "0.03 < x", "align": "left", "baseline": "alphabetic", "font": "DejaVu Sans", "fontWeight": "bold", "fontSize": 18},
         "encoding": {"x": {"datum": 0.049, "type": "quantitative", "axis": null}, "y": {"datum": 0.3525, "type": "quantitative", "axis": null}}},
        {"mark": {"type": "text", "text": "Bj", "align": "left", "baseline": "alphabetic", "font": "DejaVu Sans", "fontWeight": "bold", "fontSize": 12.5},
         "encoding": {"x": {"datum": 0.1901, "type": "quantitative", "axis": null}, "y": {"datum": 0.3417, "type": "quantitative", "axis": null}}},
        {"mark": {"type": "text", "text": "< 0.07", "align": "left", "baseline": "alphabetic", "font": "DejaVu Sans", "fontWeight": "bold", "fontSize": 18},
         "encoding": {"x": {"datum": 0.2228, "type": "quantitative", "axis": null}, "y": {"datum": 0.3525, "type": "quantitative", "axis": null}}},
        {"mark": {"type": "text", "text": "A", "angle": 270, "align": "center", "baseline": "alphabetic", "font": "DejaVu Sans", "fontWeight": "bold", "fontSize": 26},
         "encoding": {"x": {"datum": -0.0895, "type": "quantitative", "axis": null}, "y": {"datum": 0.3315, "type": "quantitative", "axis": null}}},
        {"mark": {"type": "text", "text": "CS,U", "angle": 270, "align": "left", "baseline": "alphabetic", "font": "DejaVu Sans", "fontWeight": "bold", "fontSize": 15},
         "encoding": {"x": {"datum": -0.093, "type": "quantitative", "axis": null}, "y": {"datum": 0.3555, "type": "quantitative", "axis": null}}},
        {"mark": {"type": "text", "text": "cos\u03d5", "angle": 270, "align": "left", "baseline": "alphabetic", "font": "DejaVu Sans", "fontWeight": "bold", "fontSize": 13},
         "encoding": {"x": {"datum": -0.1215, "type": "quantitative", "axis": null}, "y": {"datum": 0.3555, "type": "quantitative", "axis": null}}},
        {"mark": {"type": "text", "text": "-t [(GeV/c)", "align": "right", "baseline": "alphabetic", "font": "DejaVu Sans", "fontWeight": "bold", "fontSize": 19},
         "encoding": {"x": {"datum": 0.7711, "type": "quantitative", "axis": null}, "y": {"datum": -0.1511, "type": "quantitative", "axis": null}}},
        {"mark": {"type": "text", "text": "2", "align": "right", "baseline": "alphabetic", "font": "DejaVu Sans", "fontWeight": "bold", "fontSize": 13},
         "encoding": {"x": {"datum": 0.7858, "type": "quantitative", "axis": null}, "y": {"datum": -0.1403, "type": "quantitative", "axis": null}}},
        {"mark": {"type": "text", "text": "]", "align": "right", "baseline": "alphabetic", "font": "DejaVu Sans", "fontWeight": "bold", "fontSize": 19},
         "encoding": {"x": {"datum": 0.8, "type": "quantitative", "axis": null}, "y": {"datum": -0.1511, "type": "quantitative", "axis": null}}},
        {"data": {"name": "model"}, "transform": [{"filter": "datum.bin === '0.03-0.07' && datum.curve === 'solid'"}],
         "mark": {"type": "line", "color": "#00ff00", "strokeWidth": 3.5, "clip": true},
         "encoding": {"x": {"field": "t", "type": "quantitative", "axis": null}, "y": {"field": "A", "type": "quantitative", "axis": null}}},
        {"data": {"name": "model"}, "transform": [{"filter": "datum.bin === '0.03-0.07' && datum.curve === 'dotted'"}],
         "mark": {"type": "line", "color": "#00ff00", "strokeWidth": 3.5, "strokeDash": [5, 3], "clip": true},
         "encoding": {"x": {"field": "t", "type": "quantitative", "axis": null}, "y": {"field": "A", "type": "quantitative", "axis": null}}},
        {"data": {"name": "compass"}, "transform": [{"filter": "datum.bin === '0.03-0.07'"}],
         "mark": {"type": "line", "color": "black", "strokeWidth": 1.2, "interpolate": "catmull-rom"},
         "encoding": {"x": {"field": "t", "type": "quantitative", "axis": null}, "y": {"field": "A", "type": "quantitative", "axis": null}}},
        {"data": {"name": "compass"}, "transform": [{"filter": "datum.bin === '0.03-0.07'"}],
         "mark": {"type": "errorbar", "clip": true, "ticks": {"size": 10, "color": "black", "thickness": 1.6}, "rule": {"color": "black", "strokeWidth": 1.6}},
         "encoding": {"x": {"field": "t", "type": "quantitative", "axis": null}, "y": {"field": "A", "type": "quantitative", "axis": null}, "yError": {"field": "err"}}},
        {"data": {"name": "compass"}, "transform": [{"filter": "datum.bin === '0.03-0.07'"}],
         "mark": {"type": "point", "filled": true, "shape": "circle", "size": 120, "color": "#ff0000", "opacity": 1},
         "encoding": {"x": {"field": "t", "type": "quantitative", "axis": null}, "y": {"field": "A", "type": "quantitative", "axis": null}}},
        {"data": {"name": "hermes"}, "transform": [{"filter": "datum.bin === '0.03-0.07'"}],
         "mark": {"type": "errorbar", "clip": true, "ticks": {"size": 10, "color": "black", "thickness": 1.6}, "rule": {"color": "black", "strokeWidth": 1.6}},
         "encoding": {"x": {"field": "t", "type": "quantitative", "axis": null}, "y": {"field": "A", "type": "quantitative", "axis": null}, "yError": {"field": "err"}}},
        {"data": {"name": "hermes"}, "transform": [{"filter": "datum.bin === '0.03-0.07'"}],
         "mark": {"type": "point", "filled": true, "shape": "triangle-up", "size": 75, "color": "#0000ff", "opacity": 1},
         "encoding": {"x": {"field": "t", "type": "quantitative", "axis": null}, "y": {"field": "A", "type": "quantitative", "axis": null}}},
        {"mark": {"type": "rule", "color": "#595959", "strokeWidth": 6, "strokeDash": [14, 6]},
         "encoding": {"x": {"datum": 1.442, "type": "quantitative", "axis": null}, "x2": {"datum": 2.8497}, "y": {"datum": -0.1591, "type": "quantitative", "axis": null}}},
        {"mark": {"type": "rule", "color": "#595959", "strokeWidth": 6, "strokeCap": "round"},
         "encoding": {"x": {"datum": 1.4045, "type": "quantitative", "axis": null}, "x2": {"datum": 1.4257}, "y": {"datum": -0.1591, "type": "quantitative", "axis": null}, "y2": {"datum": -0.143}}},
        {"mark": {"type": "rule", "color": "#595959", "strokeWidth": 6, "strokeCap": "round"},
         "encoding": {"x": {"datum": 1.4045, "type": "quantitative", "axis": null}, "x2": {"datum": 1.4257}, "y": {"datum": -0.1591, "type": "quantitative", "axis": null}, "y2": {"datum": -0.1753}}},
        {"mark": {"type": "text", "text": "HERMES", "align": "left", "baseline": "alphabetic", "font": "Lato", "fontWeight": "bold", "fontSize": 36, "color": "#0000ff"},
         "encoding": {"x": {"datum": 0.8244, "type": "quantitative", "axis": null}, "y": {"datum": -0.1618, "type": "quantitative", "axis": null}}}
      ]
    },
    {
      "width": 491, "height": 372,
      "data": {"values": [{}]},
      "resolve": {"axis": {"x": "independent", "y": "independent"}},
      "layer": [
        {"mark": {"type": "rule", "color": "black", "strokeWidth": 1, "strokeDash": [6, 4]},
         "encoding": {
           "x": {"datum": 0, "type": "quantitative", "scale": {"domain": [0, 0.8], "nice": false, "zero": false},
                 "axis": {"orient": "bottom", "values": [0, 0.1, 0.2, 0.3, 0.4, 0.5, 0.6, 0.7, 0.8], "format": ".1~f", "tickSize": -13, "tickColor": "black", "tickWidth": 2.5, "labelPadding": 17}},
           "x2": {"datum": 0.8},
           "y": {"datum": 0, "type": "quantitative", "scale": {"domain": [-0.1, 0.4], "nice": false, "zero": false},
                 "axis": {"orient": "left", "values": [-0.1, -0.05, 0, 0.05, 0.1, 0.15, 0.2, 0.25, 0.3, 0.35, 0.4], "format": ".2~f", "tickSize": -16, "tickColor": "black", "tickWidth": 2.5, "labelPadding": 28}}}},
        {"mark": {"type": "rule", "color": "#ff0000", "strokeWidth": 3},
         "encoding": {
           "x": {"datum": 0.049, "type": "quantitative", "axis": {"orient": "top", "offset": -372, "values": [0.02, 0.04, 0.06, 0.08, 0.12, 0.14, 0.16, 0.18, 0.22, 0.24, 0.26, 0.28, 0.32, 0.34, 0.36, 0.38, 0.42, 0.44, 0.46, 0.48, 0.52, 0.54, 0.56, 0.58, 0.62, 0.64, 0.66, 0.68, 0.72, 0.74, 0.76, 0.78], "tickSize": 7, "tickColor": "black", "tickWidth": 2, "labels": false, "domain": false}},
           "x2": {"datum": 0.098},
           "y": {"datum": 0.311, "type": "quantitative", "axis": {"orient": "right", "offset": -491, "values": [-0.09, -0.08, -0.07, -0.06, -0.04, -0.03, -0.02, -0.01, 0.01, 0.02, 0.03, 0.04, 0.06, 0.07, 0.08, 0.09, 0.11, 0.12, 0.13, 0.14, 0.16, 0.17, 0.18, 0.19, 0.21, 0.22, 0.23, 0.24, 0.26, 0.27, 0.28, 0.29, 0.31, 0.32, 0.33, 0.34, 0.36, 0.37, 0.38, 0.39], "tickSize": 8, "tickColor": "black", "tickWidth": 2, "labels": false, "domain": false}}}},
        {"mark": {"type": "rule", "color": "#0000ff", "strokeWidth": 3},
         "encoding": {"x": {"datum": 0.049, "type": "quantitative", "axis": null}, "x2": {"datum": 0.098}, "y": {"datum": 0.271, "type": "quantitative", "axis": null}}},
        {"mark": {"type": "text", "text": "Compass projected", "align": "left", "baseline": "middle", "font": "DejaVu Sans", "fontWeight": "bold", "fontSize": 19},
         "encoding": {"x": {"datum": 0.109, "type": "quantitative", "axis": null}, "y": {"datum": 0.311, "type": "quantitative", "axis": null}}},
        {"mark": {"type": "text", "text": "Hermes JHEP 07 (2012) 032", "align": "left", "baseline": "middle", "font": "DejaVu Sans", "fontWeight": "bold", "fontSize": 19},
         "encoding": {"x": {"datum": 0.109, "type": "quantitative", "axis": null}, "y": {"datum": 0.271, "type": "quantitative", "axis": null}}},
        {"mark": {"type": "text", "text": "0.07 < x", "align": "left", "baseline": "alphabetic", "font": "DejaVu Sans", "fontWeight": "bold", "fontSize": 18},
         "encoding": {"x": {"datum": 0.049, "type": "quantitative", "axis": null}, "y": {"datum": 0.3525, "type": "quantitative", "axis": null}}},
        {"mark": {"type": "text", "text": "Bj", "align": "left", "baseline": "alphabetic", "font": "DejaVu Sans", "fontWeight": "bold", "fontSize": 12.5},
         "encoding": {"x": {"datum": 0.1901, "type": "quantitative", "axis": null}, "y": {"datum": 0.3417, "type": "quantitative", "axis": null}}},
        {"mark": {"type": "text", "text": "< 0.15", "align": "left", "baseline": "alphabetic", "font": "DejaVu Sans", "fontWeight": "bold", "fontSize": 18},
         "encoding": {"x": {"datum": 0.2228, "type": "quantitative", "axis": null}, "y": {"datum": 0.3525, "type": "quantitative", "axis": null}}},
        {"mark": {"type": "text", "text": "A", "angle": 270, "align": "center", "baseline": "alphabetic", "font": "DejaVu Sans", "fontWeight": "bold", "fontSize": 26},
         "encoding": {"x": {"datum": -0.0895, "type": "quantitative", "axis": null}, "y": {"datum": 0.3315, "type": "quantitative", "axis": null}}},
        {"mark": {"type": "text", "text": "CS,U", "angle": 270, "align": "left", "baseline": "alphabetic", "font": "DejaVu Sans", "fontWeight": "bold", "fontSize": 15},
         "encoding": {"x": {"datum": -0.093, "type": "quantitative", "axis": null}, "y": {"datum": 0.3555, "type": "quantitative", "axis": null}}},
        {"mark": {"type": "text", "text": "cos\u03d5", "angle": 270, "align": "left", "baseline": "alphabetic", "font": "DejaVu Sans", "fontWeight": "bold", "fontSize": 13},
         "encoding": {"x": {"datum": -0.1215, "type": "quantitative", "axis": null}, "y": {"datum": 0.3555, "type": "quantitative", "axis": null}}},
        {"mark": {"type": "text", "text": "-t [(GeV/c)", "align": "right", "baseline": "alphabetic", "font": "DejaVu Sans", "fontWeight": "bold", "fontSize": 19},
         "encoding": {"x": {"datum": 0.7711, "type": "quantitative", "axis": null}, "y": {"datum": -0.1511, "type": "quantitative", "axis": null}}},
        {"mark": {"type": "text", "text": "2", "align": "right", "baseline": "alphabetic", "font": "DejaVu Sans", "fontWeight": "bold", "fontSize": 13},
         "encoding": {"x": {"datum": 0.7858, "type": "quantitative", "axis": null}, "y": {"datum": -0.1403, "type": "quantitative", "axis": null}}},
        {"mark": {"type": "text", "text": "]", "align": "right", "baseline": "alphabetic", "font": "DejaVu Sans", "fontWeight": "bold", "fontSize": 19},
         "encoding": {"x": {"datum": 0.8, "type": "quantitative", "axis": null}, "y": {"datum": -0.1511, "type": "quantitative", "axis": null}}},
        {"data": {"name": "model"}, "transform": [{"filter": "datum.bin === '0.07-0.15' && datum.curve === 'solid'"}],
         "mark": {"type": "line", "color": "#00ff00", "strokeWidth": 3.5, "clip": true},
         "encoding": {"x": {"field": "t", "type": "quantitative", "axis": null}, "y": {"field": "A", "type": "quantitative", "axis": null}}},
        {"data": {"name": "model"}, "transform": [{"filter": "datum.bin === '0.07-0.15' && datum.curve === 'dotted'"}],
         "mark": {"type": "line", "color": "#00ff00", "strokeWidth": 3.5, "strokeDash": [5, 3], "clip": true},
         "encoding": {"x": {"field": "t", "type": "quantitative", "axis": null}, "y": {"field": "A", "type": "quantitative", "axis": null}}},
        {"data": {"name": "compass"}, "transform": [{"filter": "datum.bin === '0.07-0.15'"}],
         "mark": {"type": "line", "color": "black", "strokeWidth": 1.2, "interpolate": "catmull-rom"},
         "encoding": {"x": {"field": "t", "type": "quantitative", "axis": null}, "y": {"field": "A", "type": "quantitative", "axis": null}}},
        {"data": {"name": "compass"}, "transform": [{"filter": "datum.bin === '0.07-0.15'"}],
         "mark": {"type": "errorbar", "clip": true, "ticks": {"size": 10, "color": "black", "thickness": 1.6}, "rule": {"color": "black", "strokeWidth": 1.6}},
         "encoding": {"x": {"field": "t", "type": "quantitative", "axis": null}, "y": {"field": "A", "type": "quantitative", "axis": null}, "yError": {"field": "err"}}},
        {"data": {"name": "compass"}, "transform": [{"filter": "datum.bin === '0.07-0.15'"}],
         "mark": {"type": "point", "filled": true, "shape": "circle", "size": 120, "color": "#ff0000", "opacity": 1},
         "encoding": {"x": {"field": "t", "type": "quantitative", "axis": null}, "y": {"field": "A", "type": "quantitative", "axis": null}}},
        {"data": {"name": "hermes"}, "transform": [{"filter": "datum.bin === '0.07-0.15'"}],
         "mark": {"type": "errorbar", "clip": true, "ticks": {"size": 10, "color": "black", "thickness": 1.6}, "rule": {"color": "black", "strokeWidth": 1.6}},
         "encoding": {"x": {"field": "t", "type": "quantitative", "axis": null}, "y": {"field": "A", "type": "quantitative", "axis": null}, "yError": {"field": "err"}}},
        {"data": {"name": "hermes"}, "transform": [{"filter": "datum.bin === '0.07-0.15'"}],
         "mark": {"type": "point", "filled": true, "shape": "triangle-up", "size": 75, "color": "#0000ff", "opacity": 1},
         "encoding": {"x": {"field": "t", "type": "quantitative", "axis": null}, "y": {"field": "A", "type": "quantitative", "axis": null}}}
      ]
    },
    {
      "width": 491, "height": 372,
      "data": {"values": [{}]},
      "resolve": {"axis": {"x": "independent", "y": "independent"}},
      "layer": [
        {"mark": {"type": "rule", "color": "black", "strokeWidth": 1, "strokeDash": [6, 4]},
         "encoding": {
           "x": {"datum": 0, "type": "quantitative", "scale": {"domain": [0, 0.8], "nice": false, "zero": false},
                 "axis": {"orient": "bottom", "values": [0, 0.1, 0.2, 0.3, 0.4, 0.5, 0.6, 0.7, 0.8], "format": ".1~f", "tickSize": -13, "tickColor": "black", "tickWidth": 2.5, "labelPadding": 17}},
           "x2": {"datum": 0.8},
           "y": {"datum": 0, "type": "quantitative", "scale": {"domain": [-0.1, 0.4], "nice": false, "zero": false},
                 "axis": {"orient": "left", "values": [-0.1, -0.05, 0, 0.05, 0.1, 0.15, 0.2, 0.25, 0.3, 0.35, 0.4], "format": ".2~f", "tickSize": -16, "tickColor": "black", "tickWidth": 2.5, "labelPadding": 28}}}},
        {"mark": {"type": "rule", "color": "#ff0000", "strokeWidth": 3},
         "encoding": {
           "x": {"datum": 0.049, "type": "quantitative", "axis": {"orient": "top", "offset": -372, "values": [0.02, 0.04, 0.06, 0.08, 0.12, 0.14, 0.16, 0.18, 0.22, 0.24, 0.26, 0.28, 0.32, 0.34, 0.36, 0.38, 0.42, 0.44, 0.46, 0.48, 0.52, 0.54, 0.56, 0.58, 0.62, 0.64, 0.66, 0.68, 0.72, 0.74, 0.76, 0.78], "tickSize": 7, "tickColor": "black", "tickWidth": 2, "labels": false, "domain": false}},
           "x2": {"datum": 0.098},
           "y": {"datum": 0.311, "type": "quantitative", "axis": {"orient": "right", "offset": -491, "values": [-0.09, -0.08, -0.07, -0.06, -0.04, -0.03, -0.02, -0.01, 0.01, 0.02, 0.03, 0.04, 0.06, 0.07, 0.08, 0.09, 0.11, 0.12, 0.13, 0.14, 0.16, 0.17, 0.18, 0.19, 0.21, 0.22, 0.23, 0.24, 0.26, 0.27, 0.28, 0.29, 0.31, 0.32, 0.33, 0.34, 0.36, 0.37, 0.38, 0.39], "tickSize": 8, "tickColor": "black", "tickWidth": 2, "labels": false, "domain": false}}}},
        {"mark": {"type": "rule", "color": "#0000ff", "strokeWidth": 3},
         "encoding": {"x": {"datum": 0.049, "type": "quantitative", "axis": null}, "x2": {"datum": 0.098}, "y": {"datum": 0.271, "type": "quantitative", "axis": null}}},
        {"mark": {"type": "text", "text": "Compass projected", "align": "left", "baseline": "middle", "font": "DejaVu Sans", "fontWeight": "bold", "fontSize": 19},
         "encoding": {"x": {"datum": 0.109, "type": "quantitative", "axis": null}, "y": {"datum": 0.311, "type": "quantitative", "axis": null}}},
        {"mark": {"type": "text", "text": "Hermes JHEP 07 (2012) 032", "align": "left", "baseline": "middle", "font": "DejaVu Sans", "fontWeight": "bold", "fontSize": 19},
         "encoding": {"x": {"datum": 0.109, "type": "quantitative", "axis": null}, "y": {"datum": 0.271, "type": "quantitative", "axis": null}}},
        {"mark": {"type": "text", "text": "0.15 < x", "align": "left", "baseline": "alphabetic", "font": "DejaVu Sans", "fontWeight": "bold", "fontSize": 18},
         "encoding": {"x": {"datum": 0.049, "type": "quantitative", "axis": null}, "y": {"datum": 0.3525, "type": "quantitative", "axis": null}}},
        {"mark": {"type": "text", "text": "Bj", "align": "left", "baseline": "alphabetic", "font": "DejaVu Sans", "fontWeight": "bold", "fontSize": 12.5},
         "encoding": {"x": {"datum": 0.1901, "type": "quantitative", "axis": null}, "y": {"datum": 0.3417, "type": "quantitative", "axis": null}}},
        {"mark": {"type": "text", "text": "< 0.30", "align": "left", "baseline": "alphabetic", "font": "DejaVu Sans", "fontWeight": "bold", "fontSize": 18},
         "encoding": {"x": {"datum": 0.2228, "type": "quantitative", "axis": null}, "y": {"datum": 0.3525, "type": "quantitative", "axis": null}}},
        {"mark": {"type": "text", "text": "A", "angle": 270, "align": "center", "baseline": "alphabetic", "font": "DejaVu Sans", "fontWeight": "bold", "fontSize": 26},
         "encoding": {"x": {"datum": -0.0895, "type": "quantitative", "axis": null}, "y": {"datum": 0.3315, "type": "quantitative", "axis": null}}},
        {"mark": {"type": "text", "text": "CS,U", "angle": 270, "align": "left", "baseline": "alphabetic", "font": "DejaVu Sans", "fontWeight": "bold", "fontSize": 15},
         "encoding": {"x": {"datum": -0.093, "type": "quantitative", "axis": null}, "y": {"datum": 0.3555, "type": "quantitative", "axis": null}}},
        {"mark": {"type": "text", "text": "cos\u03d5", "angle": 270, "align": "left", "baseline": "alphabetic", "font": "DejaVu Sans", "fontWeight": "bold", "fontSize": 13},
         "encoding": {"x": {"datum": -0.1215, "type": "quantitative", "axis": null}, "y": {"datum": 0.3555, "type": "quantitative", "axis": null}}},
        {"mark": {"type": "text", "text": "-t [(GeV/c)", "align": "right", "baseline": "alphabetic", "font": "DejaVu Sans", "fontWeight": "bold", "fontSize": 19},
         "encoding": {"x": {"datum": 0.7711, "type": "quantitative", "axis": null}, "y": {"datum": -0.1511, "type": "quantitative", "axis": null}}},
        {"mark": {"type": "text", "text": "2", "align": "right", "baseline": "alphabetic", "font": "DejaVu Sans", "fontWeight": "bold", "fontSize": 13},
         "encoding": {"x": {"datum": 0.7858, "type": "quantitative", "axis": null}, "y": {"datum": -0.1403, "type": "quantitative", "axis": null}}},
        {"mark": {"type": "text", "text": "]", "align": "right", "baseline": "alphabetic", "font": "DejaVu Sans", "fontWeight": "bold", "fontSize": 19},
         "encoding": {"x": {"datum": 0.8, "type": "quantitative", "axis": null}, "y": {"datum": -0.1511, "type": "quantitative", "axis": null}}},
        {"data": {"name": "model"}, "transform": [{"filter": "datum.bin === '0.15-0.30' && datum.curve === 'solid'"}],
         "mark": {"type": "line", "color": "#00ff00", "strokeWidth": 3.5, "clip": true},
         "encoding": {"x": {"field": "t", "type": "quantitative", "axis": null}, "y": {"field": "A", "type": "quantitative", "axis": null}}},
        {"data": {"name": "model"}, "transform": [{"filter": "datum.bin === '0.15-0.30' && datum.curve === 'dotted'"}],
         "mark": {"type": "line", "color": "#00ff00", "strokeWidth": 3.5, "strokeDash": [5, 3], "clip": true},
         "encoding": {"x": {"field": "t", "type": "quantitative", "axis": null}, "y": {"field": "A", "type": "quantitative", "axis": null}}},
        {"data": {"name": "compass"}, "transform": [{"filter": "datum.bin === '0.15-0.30'"}],
         "mark": {"type": "line", "color": "black", "strokeWidth": 1.2, "interpolate": "catmull-rom"},
         "encoding": {"x": {"field": "t", "type": "quantitative", "axis": null}, "y": {"field": "A", "type": "quantitative", "axis": null}}},
        {"data": {"name": "compass"}, "transform": [{"filter": "datum.bin === '0.15-0.30'"}],
         "mark": {"type": "errorbar", "clip": true, "ticks": {"size": 10, "color": "black", "thickness": 1.6}, "rule": {"color": "black", "strokeWidth": 1.6}},
         "encoding": {"x": {"field": "t", "type": "quantitative", "axis": null}, "y": {"field": "A", "type": "quantitative", "axis": null}, "yError": {"field": "err"}}},
        {"data": {"name": "compass"}, "transform": [{"filter": "datum.bin === '0.15-0.30'"}],
         "mark": {"type": "point", "filled": true, "shape": "circle", "size": 120, "color": "#ff0000", "opacity": 1},
         "encoding": {"x": {"field": "t", "type": "quantitative", "axis": null}, "y": {"field": "A", "type": "quantitative", "axis": null}}},
        {"data": {"name": "hermes"}, "transform": [{"filter": "datum.bin === '0.15-0.30'"}],
         "mark": {"type": "errorbar", "clip": true, "ticks": {"size": 10, "color": "black", "thickness": 1.6}, "rule": {"color": "black", "strokeWidth": 1.6}},
         "encoding": {"x": {"field": "t", "type": "quantitative", "axis": null}, "y": {"field": "A", "type": "quantitative", "axis": null}, "yError": {"field": "err"}}},
        {"data": {"name": "hermes"}, "transform": [{"filter": "datum.bin === '0.15-0.30'"}],
         "mark": {"type": "point", "filled": true, "shape": "triangle-up", "size": 75, "color": "#0000ff", "opacity": 1},
         "encoding": {"x": {"field": "t", "type": "quantitative", "axis": null}, "y": {"field": "A", "type": "quantitative", "axis": null}}},
        {"mark": {"type": "text", "text": "JLab", "align": "left", "baseline": "alphabetic", "font": "Lato", "fontWeight": "bold", "fontSize": 36, "color": "#595959"},
         "encoding": {"x": {"datum": 0.2216, "type": "quantitative", "axis": null}, "y": {"datum": -0.1497, "type": "quantitative", "axis": null}}}
      ]
    }
  ]
}
